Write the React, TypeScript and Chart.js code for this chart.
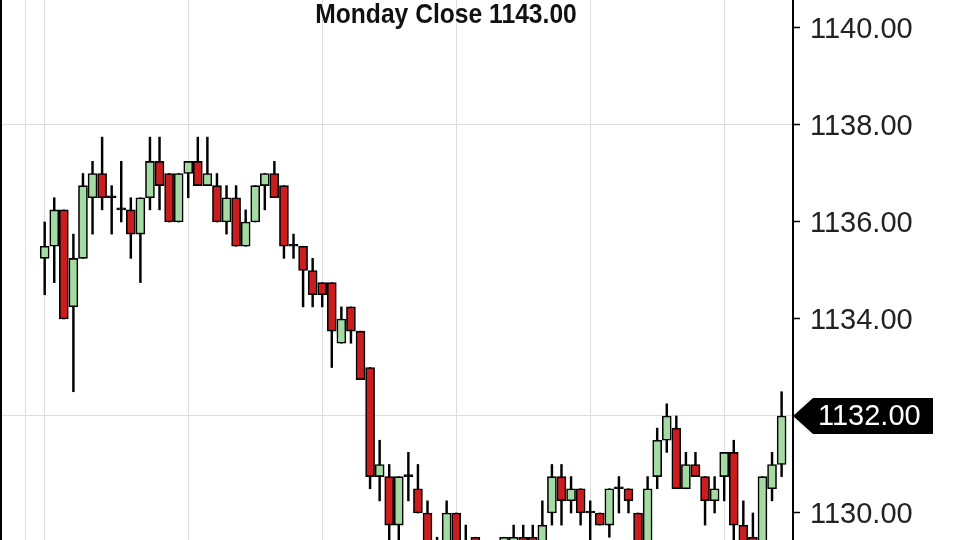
import React, { useEffect, useRef } from "react";
import Chart from "chart.js/auto";

// 5-minute bars, left to right
const opens = [
  1135.25, 1135.5, 1136.25, 1134.25, 1135.25, 1136.5, 1137, 1136.5, 1136.25, 1136.25,
  1135.75, 1136.5, 1137.25, 1137, 1136, 1137, 1137.25, 1136.75, 1136.75, 1136,
  1136.5, 1135.5, 1136, 1136.75, 1137, 1136.75, 1135.5, 1135.5, 1135, 1134.75,
  1134.75, 1133.5, 1134.25, 1133.75, 1133, 1130.75, 1130.75, 1129.75, 1130.75, 1130.5,
  1130, 1129, 1129.25, 1130, 1129.25, 1129.5, 1129.25, 1129, 1129, 1129.25,
  1129.5, 1129.5, 1129.25, 1130, 1130.75, 1130.25, 1130.5, 1130, 1130, 1129.75,
  1130.5, 1130.5, 1130, 1129.25, 1130.75, 1131.5, 1131.75, 1130.5, 1131, 1130.75,
  1130.25, 1130.75, 1131.25, 1129.75, 1129.5, 1129.25, 1130.5, 1131,
];
const highs = [
  1136, 1136.5, 1136.25, 1135.75, 1137, 1137.25, 1137.75, 1136.75, 1137.25, 1136.5,
  1136.5, 1137.75, 1137.75, 1137, 1137, 1137.25, 1137.75, 1137.75, 1137, 1136.75,
  1136.75, 1136.25, 1136.75, 1137, 1137.25, 1136.75, 1135.75, 1135.5, 1135.25, 1134.75,
  1134.75, 1134.25, 1134.25, 1133.75, 1133, 1131.5, 1131, 1130.75, 1131.25, 1131,
  1130.25, 1129.5, 1130.25, 1130, 1129.75, 1129.5, 1129.25, 1129.25, 1129.5, 1129.75,
  1129.75, 1129.75, 1130.25, 1131, 1131, 1130.75, 1130.5, 1130.25, 1130, 1130.5,
  1130.75, 1130.5, 1130, 1130.75, 1131.75, 1132.25, 1132, 1131.25, 1131.25, 1130.75,
  1130.75, 1131.25, 1131.5, 1130.25, 1130, 1130.75, 1131.25, 1132.5,
];
const lows = [
  1134.5, 1134.75, 1134, 1132.5, 1135.25, 1135.75, 1136.25, 1135.75, 1136, 1135.25,
  1134.75, 1136.25, 1136.25, 1136, 1136, 1136.5, 1136.75, 1136.75, 1136, 1135.75,
  1135.5, 1135.5, 1136, 1136.25, 1136.5, 1135.25, 1135.25, 1134.25, 1134.25, 1134.25,
  1133, 1133.5, 1133.5, 1132.75, 1130.5, 1130.25, 1129, 1129, 1130.25, 1130,
  1129, 1128.75, 1129, 1129, 1128.75, 1128.75, 1128.75, 1128.5, 1129, 1129,
  1129, 1129, 1129, 1129.75, 1129.75, 1130, 1129.75, 1129.25, 1129.75, 1129.5,
  1130, 1130, 1129, 1129, 1130.5, 1131.25, 1130.5, 1130.5, 1130.75, 1129.75,
  1130, 1130.25, 1129.25, 1129, 1129, 1129, 1130.25, 1130.75,
];
const closes = [
  1135.5, 1136.25, 1134, 1135.25, 1136.75, 1137, 1136.5, 1136.5, 1136.25, 1135.75,
  1136.5, 1137.25, 1136.75, 1136, 1137, 1137.25, 1136.75, 1137, 1136, 1136.5,
  1135.5, 1136, 1136.75, 1137, 1136.5, 1135.5, 1135.5, 1135, 1134.5, 1134.5,
  1133.75, 1134, 1133.75, 1132.75, 1130.75, 1131, 1129.75, 1130.75, 1130.75, 1130,
  1129.25, 1129.25, 1130, 1129.25, 1129, 1129.25, 1129, 1129.25, 1129.5, 1129.5,
  1129.25, 1129.25, 1129.75, 1130.75, 1130.25, 1130.5, 1130, 1130, 1129.75, 1130.5,
  1130.5, 1130.25, 1129.25, 1130.5, 1131.5, 1132, 1130.5, 1131, 1130.75, 1130.25,
  1130.5, 1131.25, 1129.75, 1129.25, 1129.25, 1130.75, 1131, 1132,
];

const priceTicks = [1130, 1132, 1134, 1136, 1138, 1140];
const priceGridLines = [1132, 1138];
const timeGridLines = [-2, 0, 15, 29, 43, 57, 71];
const title = "Monday Close 1143.00";

const UP = "#a3dba3";
const DOWN = "#cb1d1d";

const lastPriceTag = {
  id: "lastPriceTag",
  afterDraw(chart: any) {
    const { ctx, chartArea, scales } = chart;
    const last = closes[closes.length - 1];
    const y = scales.y.getPixelForValue(last);
    const x0 = chartArea.right;
    ctx.save();
    ctx.fillStyle = "#000";
    ctx.beginPath();
    ctx.moveTo(x0, y);
    ctx.lineTo(x0 + 20, y - 18);
    ctx.lineTo(x0 + 140, y - 18);
    ctx.lineTo(x0 + 140, y + 18);
    ctx.lineTo(x0 + 20, y + 18);
    ctx.closePath();
    ctx.fill();
    ctx.fillStyle = "#fff";
    ctx.font = "29px 'Liberation Sans', Arial, sans-serif";
    ctx.textAlign = "left";
    ctx.textBaseline = "middle";
    ctx.fillText(last.toFixed(2), x0 + 25, y + 1);
    ctx.restore();
  },
};

export default function App() {
  const chartRef = useRef(null) as any;
  const chartInstance = useRef(null) as any;

  useEffect(() => {
    if (chartInstance.current) {
      chartInstance.current.destroy();
    }
    const ctx = chartRef.current?.getContext("2d");

    const idx = closes.map((_, i) => i);
    const bodyColors = idx.map((i) =>
      closes[i] > opens[i] ? UP : closes[i] < opens[i] ? DOWN : "#000"
    );

    chartInstance.current = new Chart(ctx, {
      type: "bar",
      data: {
        datasets: [
          {
            label: "body",
            data: idx.map((i) => ({ x: i, y: [opens[i], closes[i]] })) as any,
            backgroundColor: bodyColors,
            borderColor: "#000",
            borderWidth: 1.6,
            borderSkipped: false,
            barThickness: 9,
            minBarLength: 2,
            grouped: false,
          } as any,
          {
            label: "wick",
            data: idx.map((i) => ({ x: i, y: [lows[i], highs[i]] })) as any,
            backgroundColor: "#000",
            borderWidth: 0,
            barThickness: 1.8,
            grouped: false,
          } as any,
        ],
      },
      options: {
        animation: false,
        responsive: true,
        maintainAspectRatio: false,
        layout: { padding: 0 },
        plugins: { legend: { display: false }, tooltip: { enabled: false } },
        scales: {
          x: {
            type: "linear",
            min: -4.46,
            max: 78.19,
            offset: false,
            ticks: { display: false },
            border: { display: false },
            grid: { color: "#dddddd", lineWidth: 1, drawTicks: false, offset: false },
            afterBuildTicks: (scale: any) => {
              scale.ticks = timeGridLines.map((v) => ({ value: v }));
            },
            afterFit: (scale: any) => {
              scale.height = 0;
              scale.paddingLeft = 0;
              scale.paddingRight = 0;
            },
          },
          y: {
            position: "right",
            min: 1129.443,
            max: 1140.577,
            afterBuildTicks: (scale: any) => {
              scale.ticks = priceTicks.map((v) => ({ value: v }));
            },
            afterFit: (scale: any) => {
              scale.width = 167;
              scale.paddingTop = 0;
              scale.paddingBottom = 0;
            },
            border: { display: true, color: "#000", width: 2 },
            grid: {
              color: (c: any) =>
                c.tick && priceGridLines.includes(c.tick.value) ? "#dddddd" : "rgba(0,0,0,0)",
              tickColor: "#000",
              tickLength: 7,
              tickWidth: 1.5,
            },
            ticks: {
              padding: 10,
              labelOffset: 2,
              color: "#222",
              font: { family: "'Liberation Sans', Arial, sans-serif", size: 29 },
              callback: (v: any) => Number(v).toFixed(2),
            },
          },
        },
      } as any,
      plugins: [lastPriceTag],
    });

    return () => {
      if (chartInstance.current) {
        chartInstance.current.destroy();
      }
    };
  }, []);

  return (
    <div
      style={{
        position: "fixed",
        left: 0,
        top: 0,
        width: 960,
        height: 540,
        background: "#fff",
        overflow: "hidden",
      }}
    >
      <div
        style={{
          position: "absolute",
          left: 0,
          top: 0,
          width: 958,
          height: 540,
          borderLeft: "2px solid #000",
        }}
      >
        <canvas ref={chartRef}></canvas>
      </div>
      <div
        style={{
          position: "absolute",
          left: 446,
          top: 0,
          transform: "translateX(-50%) scaleX(0.88)",
          fontFamily: "'Liberation Sans', Arial, sans-serif",
          fontWeight: "bold",
          fontSize: 28,
          lineHeight: "28px",
          color: "#111",
          whiteSpace: "nowrap",
        }}
      >
        {title}
      </div>
    </div>
  );
}
